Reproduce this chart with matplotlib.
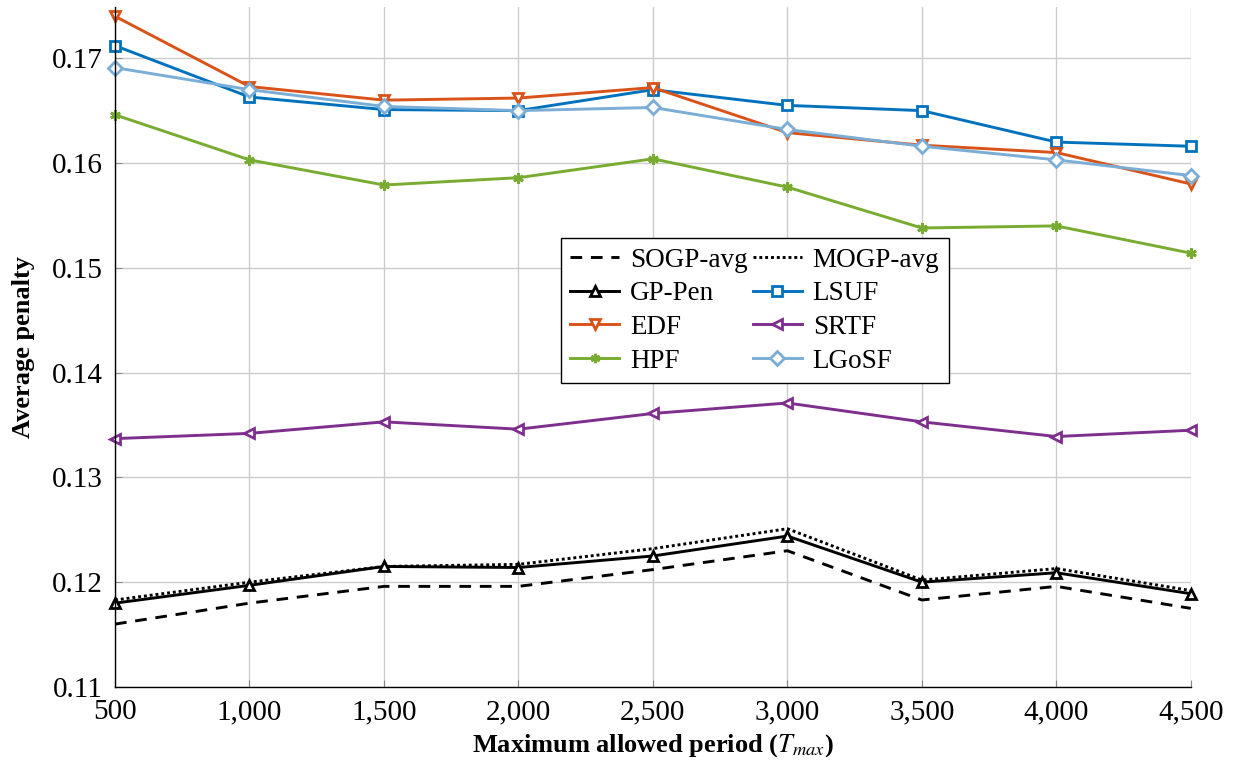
import matplotlib
matplotlib.use("Agg")
import matplotlib.pyplot as plt
from matplotlib.ticker import FuncFormatter

plt.rcParams['font.family'] = ['Liberation Serif', 'DejaVu Serif']
plt.rcParams['mathtext.fontset'] = 'stix'

periods = [500, 1000, 1500, 2000, 2500, 3000, 3500, 4000, 4500]
sogp_avg = [0.1160, 0.1180, 0.1196, 0.1196, 0.1212, 0.1230, 0.1183, 0.1196, 0.1175]
mogp_avg = [0.1183, 0.1200, 0.1215, 0.1217, 0.1232, 0.1251, 0.1202, 0.1213, 0.1192]
gp_pen = [0.1180, 0.1197, 0.1215, 0.1214, 0.1225, 0.1244, 0.1200, 0.1209, 0.1189]
lsuf = [0.1712, 0.1663, 0.1651, 0.1650, 0.1670, 0.1655, 0.1650, 0.1620, 0.1616]
edf = [0.1740, 0.1673, 0.1660, 0.1662, 0.1672, 0.1629, 0.1617, 0.1610, 0.1580]
srtf = [0.1337, 0.1342, 0.1353, 0.1346, 0.1361, 0.1371, 0.1353, 0.1339, 0.1345]
hpf = [0.1646, 0.1603, 0.1579, 0.1586, 0.1604, 0.1577, 0.1538, 0.1540, 0.1514]
lgosf = [0.1691, 0.1670, 0.1654, 0.1650, 0.1653, 0.1632, 0.1616, 0.1603, 0.1588]

fig = plt.figure(figsize=(12.38, 7.65), dpi=100)
ax = fig.add_axes([0.0929, 0.102, 0.869, 0.889])

lw = 2.1
ms = 7.5
kw = dict(lw=lw, ms=ms, mew=2.0, clip_on=False)
h_sogp, = ax.plot(periods, sogp_avg, color='black', linestyle=(0, (4, 3)), lw=lw, clip_on=False, label='SOGP-avg')
h_mogp, = ax.plot(periods, mogp_avg, color='black', linestyle=(0, (1, 1)), lw=lw, clip_on=False, label='MOGP-avg')
h_gp, = ax.plot(periods, gp_pen, color='black', marker='^', mfc='white', label='GP-Pen', **kw)
h_lsuf, = ax.plot(periods, lsuf, color='#0072BD', marker='s', mfc='white', label='LSUF', **kw)
h_edf, = ax.plot(periods, edf, color='#D95319', marker='v', mfc='white', label='EDF', **kw)
h_srtf, = ax.plot(periods, srtf, color='#7E2F8E', marker='<', mfc='white', label='SRTF', **kw)
h_hpf, = ax.plot(periods, hpf, color='#77AC30', marker=(6, 2, 0), label='HPF', **kw)
h_lgosf, = ax.plot(periods, lgosf, color='#7AAED6', marker='D', mfc='white', label='LGoSF', **kw)

ax.set_xlim(500, 4500)
ax.set_ylim(0.11, 0.1749)
ax.set_xticks(periods)
ax.set_yticks([0.11, 0.12, 0.13, 0.14, 0.15, 0.16, 0.17])
ax.xaxis.set_major_formatter(FuncFormatter(lambda v, p: f"{int(v):,}"))
ax.yaxis.set_major_formatter(FuncFormatter(lambda v, p: f"{v:.2f}"))
ax.grid(True, color='#cccccc', lw=1.0)
ax.set_axisbelow(True)
for s in ['top', 'right']:
    ax.spines[s].set_visible(False)
for s in ['left', 'bottom']:
    ax.spines[s].set_linewidth(1.0)
ax.tick_params(direction='in', length=5, color='#888888', labelsize=21, pad=9)

ax.set_xlabel(r'Maximum allowed period ($T_{max}$)', fontsize=19, fontweight='bold', labelpad=5)
ax.set_ylabel('Average penalty', fontsize=19, fontweight='bold', labelpad=12)

handles = [h_sogp, h_gp, h_edf, h_hpf, h_mogp, h_lsuf, h_srtf, h_lgosf]
leg = ax.legend(handles=handles, labels=[h.get_label() for h in handles], ncol=2,
                loc='upper left', bbox_to_anchor=(0.4145, 0.66), fontsize=19.5,
                frameon=True, fancybox=False, edgecolor='black', framealpha=1,
                handlelength=1.8, handletextpad=0.4, columnspacing=0.2,
                labelspacing=0.32, borderpad=0.35, borderaxespad=0, markerscale=0.9)
leg.get_frame().set_linewidth(1.0)

fig.savefig('out.png', dpi=100)
